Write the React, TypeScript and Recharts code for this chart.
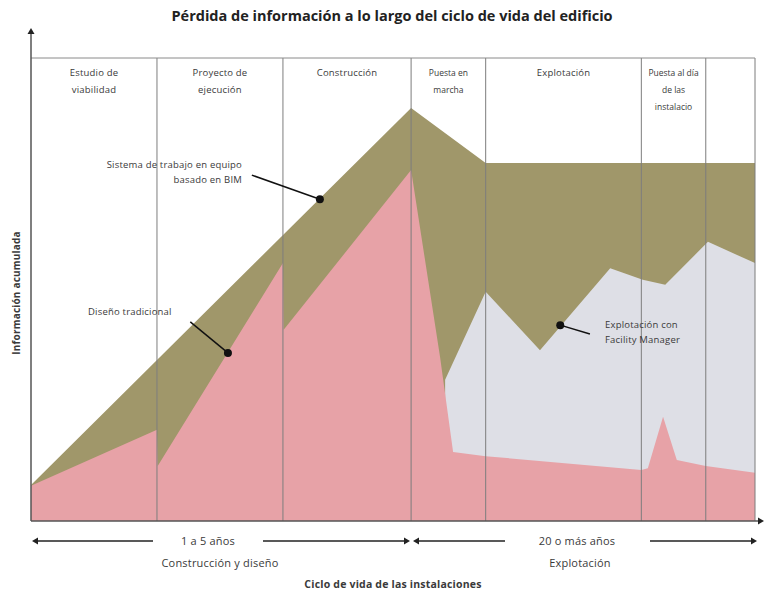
import React from "react";
import { AreaChart, Area, XAxis, YAxis, ReferenceLine, ReferenceDot } from "recharts";

// x: position along the life cycle (0-100), y: accumulated information (0-100)
const bimX = [0, 52.5, 62.8, 100];
const bimY = [7.8, 89.2, 77.3, 77.3];

const fmX = [57.2, 62.8, 70.3, 80.0, 84.5, 87.6, 93.5, 100];
const fmY = [30.5, 49.5, 36.9, 54.6, 52.1, 51.0, 60.3, 55.7];

const tradX = [0, 17.4, 17.5, 34.8, 34.9, 52.5, 56.5, 58.3, 62.8, 84.3, 85.2, 87.3, 89.2, 93.2, 100];
const tradY = [7.6, 19.7, 11.9, 55.7, 41.3, 75.8, 35.4, 14.9, 14.0, 11.0, 11.4, 22.5, 13.2, 11.9, 10.4];

const phaseBounds = [17.4, 34.8, 52.5, 62.8, 84.3, 93.2, 100];
const phaseLabels = [
  ["Estudio de", "viabilidad"],
  ["Proyecto de", "ejecución"],
  ["Construcción"],
  ["Puesta en", "marcha"],
  ["Explotación"],
  ["Puesta al día", "de las", "instalacio"],
  [],
];

const merge = () => {
  const rows = new Map<number, any>();
  const put = (xs: number[], ys: number[], key: string) => {
    xs.forEach((x, i) => {
      const r = rows.get(x) || { x };
      r[key] = ys[i];
      rows.set(x, r);
    });
  };
  put(bimX, bimY, "bim");
  put(fmX, fmY, "fm");
  put(tradX, tradY, "trad");
  return Array.from(rows.values()).sort((a, b) => a.x - b.x);
};

const data = merge();

const W = 764;
const H = 592;
const M = { top: 58, left: 31, right: 9, bottom: 71 };
const plotW = W - M.left - M.right;

const font = "'Open Sans', Lato, sans-serif";
const txt: React.CSSProperties = {
  position: "absolute",
  fontFamily: font,
  fontSize: 9.5,
  letterSpacing: 0.2,
  color: "#3a3a3a",
  lineHeight: "17px",
  whiteSpace: "nowrap",
};

const arrowHead = (x: number, y: number, dir: "l" | "r" | "u") => {
  const s = 6;
  if (dir === "l") return `${x},${y} ${x + s},${y - 3.5} ${x + s},${y + 3.5}`;
  if (dir === "r") return `${x},${y} ${x - s},${y - 3.5} ${x - s},${y + 3.5}`;
  return `${x},${y} ${x - 3.5},${y + s} ${x + 3.5},${y + s}`;
};

export default function App() {
  const starts = [0, ...phaseBounds.slice(0, -1)];
  return (
    <div style={{ position: "absolute", left: 0, top: 0, width: W, height: H, background: "#fff" }}>
      <AreaChart width={W} height={H} data={data} margin={M}>
        <XAxis dataKey="x" type="number" domain={[0, 100]} hide />
        <YAxis type="number" domain={[0, 100]} hide />
        <Area type="linear" dataKey="bim" connectNulls stroke="none" fill="#a0976a" fillOpacity={1} isAnimationActive={false} />
        <Area type="linear" dataKey="fm" connectNulls stroke="none" fill="#dedfe6" fillOpacity={1} isAnimationActive={false} />
        <Area type="linear" dataKey="trad" connectNulls stroke="none" fill="#e7a2a7" fillOpacity={1} isAnimationActive={false} />
        {phaseBounds.map((b) => (
          <ReferenceLine key={b} x={b} stroke="#7d7d7d" strokeWidth={1} ifOverflow="extendDomain" />
        ))}
        <ReferenceLine segment={[{ x: 30.5, y: 74.7 }, { x: 39.9, y: 69.5 }]} stroke="#111" strokeWidth={1.5} />
        <ReferenceLine segment={[{ x: 22.0, y: 43.0 }, { x: 27.2, y: 36.3 }]} stroke="#111" strokeWidth={1.5} />
        <ReferenceLine segment={[{ x: 77.2, y: 40.4 }, { x: 73.1, y: 42.3 }]} stroke="#111" strokeWidth={1.5} />
        <ReferenceDot x={39.9} y={69.5} r={4} fill="#111" stroke="none" />
        <ReferenceDot x={27.2} y={36.3} r={4} fill="#111" stroke="none" />
        <ReferenceDot x={73.1} y={42.3} r={4} fill="#111" stroke="none" />
      </AreaChart>

      <svg width={W} height={H} style={{ position: "absolute", left: 0, top: 0, pointerEvents: "none" }}>
        {/* frame and axes */}
        <line x1={31} y1={58} x2={755} y2={58} stroke="#8a8a8a" />
        <line x1={31} y1={521} x2={31} y2={34} stroke="#555" strokeWidth={1.5} />
        <polygon points={arrowHead(31, 28, "u")} fill="#222" />
        <line x1={31} y1={521} x2={758} y2={521} stroke="#555" strokeWidth={1.5} />
        <polygon points={arrowHead(764, 521, "r")} fill="#222" />
        {/* duration arrows */}
        <line x1={36} y1={541} x2={153} y2={541} stroke="#222" strokeWidth={1.5} />
        <polygon points={arrowHead(32, 541, "l")} fill="#222" />
        <line x1={263} y1={541} x2={405} y2={541} stroke="#222" strokeWidth={1.5} />
        <polygon points={arrowHead(410, 541, "r")} fill="#222" />
        <line x1={418} y1={541} x2={505} y2={541} stroke="#222" strokeWidth={1.5} />
        <polygon points={arrowHead(413, 541, "l")} fill="#222" />
        <line x1={650} y1={541} x2={752} y2={541} stroke="#222" strokeWidth={1.5} />
        <polygon points={arrowHead(757, 541, "r")} fill="#222" />
      </svg>

      <div
        style={{
          position: "absolute",
          left: 392,
          top: 6,
          transform: "translateX(-50%)",
          whiteSpace: "nowrap",
          fontFamily: font,
          fontWeight: 700,
          fontSize: 14.5,
          color: "#222",
        }}
      >
        Pérdida de información a lo largo del ciclo de vida del edificio
      </div>

      {phaseLabels.map((lines, i) => {
        const cx = M.left + ((starts[i] + phaseBounds[i]) / 2 / 100) * plotW;
        const small = lines.length > 2 || i === 3;
        return (
          <div
            key={i}
            style={{
              ...txt,
              left: cx,
              top: 64,
              transform: "translateX(-50%)",
              textAlign: "center",
              fontSize: small ? 8.5 : 9.5,
              letterSpacing: small ? 0 : 0.2,
            }}
          >
            {lines.map((l, j) => (
              <div key={j}>{l}</div>
            ))}
          </div>
        );
      })}

      <div style={{ ...txt, right: W - 242, top: 156, textAlign: "right" }}>
        <div>Sistema de trabajo en equipo</div>
        <div style={{ marginTop: -2 }}>basado en BIM</div>
      </div>
      <div style={{ ...txt, left: 88, top: 303 }}>Diseño tradicional</div>
      <div style={{ ...txt, left: 605, top: 317, lineHeight: "15px" }}>
        <div>Explotación con</div>
        <div>Facility Manager</div>
      </div>

      <div
        style={{
          ...txt,
          left: 16,
          top: 293,
          fontWeight: 700,
          fontSize: 10,
          transform: "translate(-50%, -50%) rotate(-90deg)",
        }}
      >
        Información acumulada
      </div>

      <div style={{ ...txt, left: 208, top: 532, fontSize: 11, transform: "translateX(-50%)" }}>1 a 5 años</div>
      <div style={{ ...txt, left: 220, top: 554, fontSize: 11, transform: "translateX(-50%)" }}>Construcción y diseño</div>
      <div style={{ ...txt, left: 577, top: 532, fontSize: 11, transform: "translateX(-50%)" }}>20 o más años</div>
      <div style={{ ...txt, left: 580, top: 554, fontSize: 11, transform: "translateX(-50%)" }}>Explotación</div>
      <div style={{ ...txt, left: 393, top: 576, transform: "translateX(-50%)", fontWeight: 700, fontSize: 10.5 }}>
        Ciclo de vida de las instalaciones
      </div>
    </div>
  );
}
